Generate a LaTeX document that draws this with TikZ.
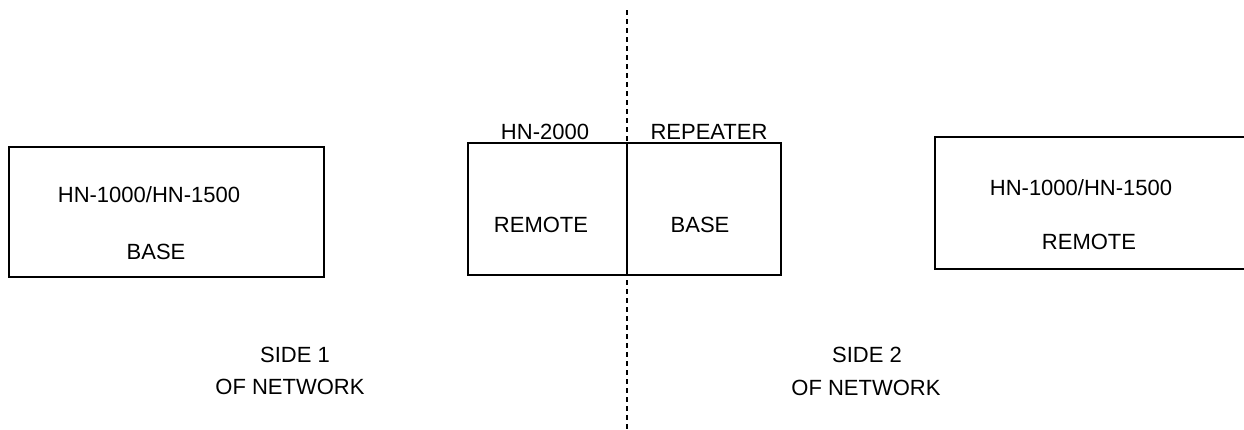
\documentclass[tikz,border=0pt]{standalone}
\usepackage{fontspec}
\setmainfont{Liberation Sans}
\begin{document}
\begin{tikzpicture}[x=1pt,y=-1pt,
  box/.style={draw=black,line width=1.8pt,inner sep=0pt},
  lbl/.style={inner sep=0pt,font=\fontsize{22}{26}\selectfont},
  divline/.style={black,line width=1.6pt,dash pattern=on 5pt off 4pt}]
\useasboundingbox (0,0) rectangle (1244,429);
\clip (0,0) rectangle (1244,429);
% dashed divider
\coordinate (dtop) at (627,10);
\coordinate (dbot) at (627,429);
\draw[divline] (dtop) -- (dbot);
% left box
\node[box,minimum width=315pt,minimum height=130pt] (lbox) at (166.5,212) {};
\node[lbl] (l1) at (149,195) {HN-1000/HN-1500};
\node[lbl] (l2) at (156,252) {BASE};
% middle box
\node[box,minimum width=313pt,minimum height=132pt] (mbox) at (624.5,209) {};
\draw[line width=1.8pt] (mbox.north -| dtop) -- (mbox.south -| dtop);
\node[lbl] (m1) at (545,132) {HN-2000};
\node[lbl] (m2) at (709,132) {REPEATER};
\node[lbl] (m3) at (541,225) {REMOTE};
\node[lbl] (m4) at (700,225) {BASE};
% right box (runs off the right edge)
\node[box,minimum width=330pt,minimum height=132pt] (rbox) at (1100,203) {};
\node[lbl] (r1) at (1081,188) {HN-1000/HN-1500};
\node[lbl] (r2) at (1089,242) {REMOTE};
% side labels
\node[lbl] (s1) at (295,355) {SIDE 1};
\node[lbl] (s1b) at (290,387) {OF NETWORK};
\node[lbl] (s2) at (867,355) {SIDE 2};
\node[lbl] (s2b) at (866,388) {OF NETWORK};
\end{tikzpicture}
\end{document}
